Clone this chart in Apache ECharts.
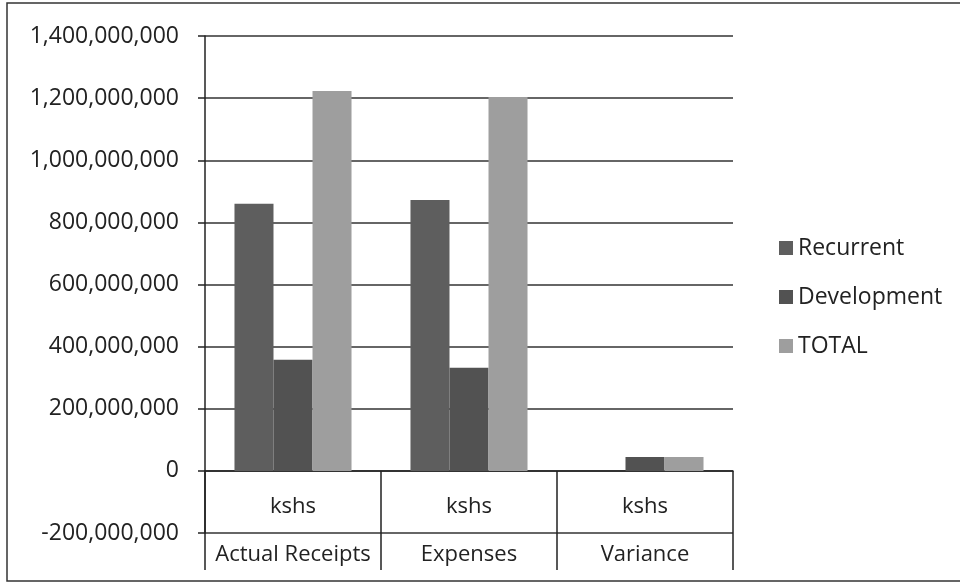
<!DOCTYPE html>
<html>
<head>
<meta charset="utf-8">
<script src="https://cdn.jsdelivr.net/npm/echarts@6/dist/echarts.min.js"></script>
<style>html,body{margin:0;padding:0;background:#fff}#c{width:960px;height:585px}</style>
</head>
<body>
<div id="c"></div>
<script>
var categories = ['Actual Receipts', 'Expenses', 'Variance'];
var subLabel = 'kshs';
var seriesNames = ['Recurrent', 'Development', 'TOTAL'];
var recurrent = [860000000, 872000000, 0];
var development = [358000000, 332000000, 45000000];
var total = [1223000000, 1204000000, 45000000];
var yTicks = { min: -200000000, max: 1400000000, interval: 200000000 };

var FONT = 'Open Sans';
var chart = echarts.init(document.getElementById('c'), null, { renderer: 'canvas' });
function fmt(v) { return v.toString().replace(/\B(?=(\d{3})+(?!\d))/g, ','); }
chart.setOption({
  animation: false,
  backgroundColor: '#fff',
  color: ['#5e5e5e', '#525252', '#9e9e9e'],
  textStyle: { fontFamily: FONT },
  graphic: [{
    type: 'rect', shape: { x: 7, y: 3, width: 960, height: 578 },
    style: { fill: 'none', stroke: '#333', lineWidth: 1.5 }, silent: true, z: -1
  }],
  legend: {
    orient: 'vertical', left: 774, top: 231,
    itemWidth: 14, itemHeight: 14, itemGap: 25,
    icon: 'rect',
    textStyle: { fontFamily: FONT, fontSize: 23, lineHeight: 24, color: '#222' },
    data: seriesNames
  },
  grid: { left: 205, right: 227, top: 36, bottom: 52, containLabel: false, outerBoundsMode: 'none' },
  xAxis: {
    type: 'category', data: categories,
    axisLine: { onZero: true, lineStyle: { color: '#222', width: 1.5 } },
    axisTick: { show: true, length: 99, lineStyle: { color: '#222', width: 1.5 } },
    axisLabel: {
      interval: 0, margin: -52, verticalAlign: 'top',
      formatter: function (v) { return '{a|' + subLabel + '}\n{b|' + v + '}'; },
      rich: {
        a: { fontFamily: FONT, fontSize: 22, color: '#222', lineHeight: 52 },
        b: { fontFamily: FONT, fontSize: 22, color: '#222', lineHeight: 44 }
      }
    },
    splitLine: { show: false }
  },
  yAxis: {
    type: 'value', min: yTicks.min, max: yTicks.max, interval: yTicks.interval,
    axisLine: { show: true, lineStyle: { color: '#222', width: 1.5 } },
    axisTick: { show: true, length: 7, lineStyle: { color: '#222', width: 1.5 } },
    axisLabel: { margin: 26, fontFamily: FONT, fontSize: 23, color: '#222', formatter: fmt },
    splitLine: { show: true, lineStyle: { color: '#333', width: 1.5 } }
  },
  series: [
    { name: seriesNames[0], type: 'bar', data: recurrent, barGap: '0%', barCategoryGap: '33.5%' },
    { name: seriesNames[1], type: 'bar', data: development, barGap: '0%', barCategoryGap: '33.5%' },
    { name: seriesNames[2], type: 'bar', data: total, barGap: '0%', barCategoryGap: '33.5%' }
  ]
});
</script>
</body>
</html>
